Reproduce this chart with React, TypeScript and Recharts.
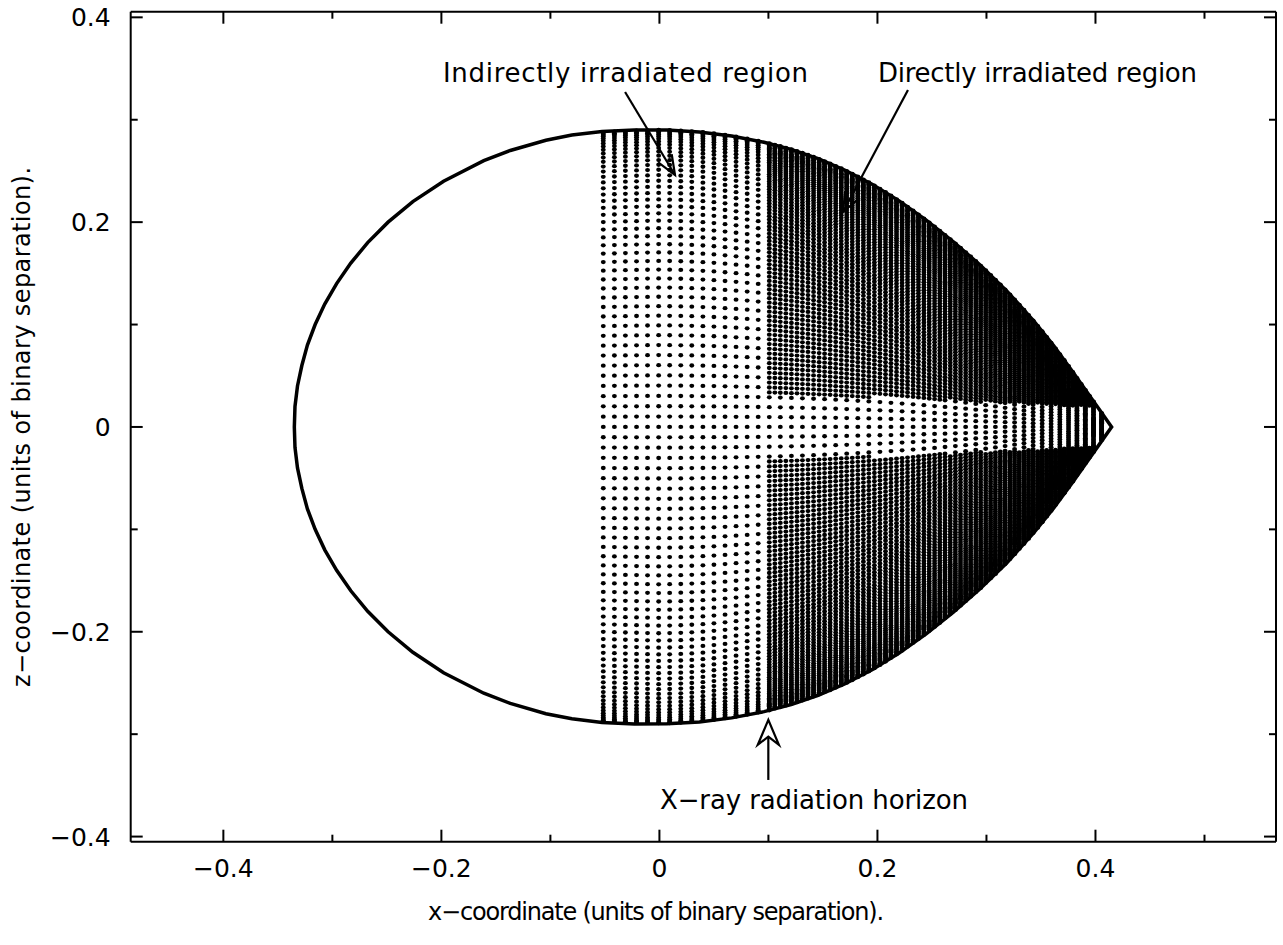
import { ComposedChart, Scatter, XAxis, YAxis, ReferenceLine, ReferenceDot } from "recharts";

// axis ticks (major ones carry a label)
const xTicks = [-0.4, -0.3, -0.2, -0.1, 0, 0.1, 0.2, 0.3, 0.4, 0.5];
const xTickLabels = ["−0.4", "", "−0.2", "", "0", "", "0.2", "", "0.4", ""];
const yTicks = [-0.4, -0.3, -0.2, -0.1, 0, 0.1, 0.2, 0.3, 0.4];
const yTickLabels = ["−0.4", "", "−0.2", "", "0", "", "0.2", "", "0.4"];

// upper half of the Roche lobe outline (mirrored for the lower half)
const outlineX = [
  -0.3349, -0.3343, -0.332, -0.328, -0.3229, -0.3158, -0.307, -0.2961, -0.2831, -0.2676, -0.2489, -0.2262,
  -0.198, -0.1611, -0.1368, -0.1041, -0.0803, -0.0526, -0.0229, 0.0069, 0.0366, 0.0663, 0.096, 0.1208,
  0.1456, 0.1704, 0.1951, 0.2199, 0.2447, 0.2694, 0.2942, 0.319, 0.3437, 0.3616, 0.3794, 0.3933, 0.4032,
  0.4148,
];
const outlineZ = [
  0, 0.02, 0.04, 0.06, 0.08, 0.1, 0.12, 0.14, 0.16, 0.18, 0.2, 0.22, 0.24, 0.26, 0.27, 0.28, 0.285, 0.2885,
  0.29, 0.2899, 0.2881, 0.2841, 0.278, 0.2711, 0.262, 0.2507, 0.237, 0.2208, 0.202, 0.1811, 0.158, 0.1324,
  0.103, 0.0794, 0.0535, 0.0325, 0.0175, 0,
];

// surface grid columns: x position and half height (top of column = outline)
const columnX = [
  -0.0515, -0.0464, -0.0413, -0.0362, -0.0312, -0.0261, -0.021, -0.0159, -0.0109, -0.0058, -0.0007, 0.0044,
  0.0094, 0.0145, 0.0196, 0.0247, 0.0297, 0.0348, 0.0399, 0.045, 0.05, 0.0551, 0.0602, 0.0653, 0.0703,
  0.0754, 0.0805, 0.0856, 0.0906, 0.0957, 0.1008, 0.1059, 0.1109, 0.116, 0.1211, 0.1262, 0.1312, 0.1363,
  0.1414, 0.1465, 0.1515, 0.1566, 0.1617, 0.1668, 0.1718, 0.1769, 0.182, 0.1871, 0.1921, 0.1972, 0.2023,
  0.2074, 0.2124, 0.2175, 0.2226, 0.2276, 0.2327, 0.2376, 0.2426, 0.2475, 0.2524, 0.2572, 0.262, 0.2668,
  0.2715, 0.2762, 0.2809, 0.2855, 0.2902, 0.2947, 0.2993, 0.3038, 0.3082, 0.3127, 0.3171, 0.3215, 0.3258,
  0.3301, 0.3344, 0.3386, 0.3428, 0.347, 0.3511, 0.3552, 0.3593, 0.3633, 0.3673, 0.3713, 0.3753, 0.3792,
  0.383, 0.3869, 0.3907, 0.3944, 0.3982, 0.4019, 0.4056,
];
const columnTop = [
  0.288, 0.2882, 0.2884, 0.2887, 0.2889, 0.2891, 0.2893, 0.2895, 0.2897, 0.2899, 0.29, 0.2899, 0.2898,
  0.2896, 0.2894, 0.2891, 0.2887, 0.2883, 0.2878, 0.2872, 0.2866, 0.2859, 0.2851, 0.2843, 0.2834, 0.2825,
  0.2815, 0.2804, 0.2793, 0.2781, 0.2769, 0.2755, 0.2741, 0.2726, 0.271, 0.2693, 0.2675, 0.2657, 0.2637,
  0.2616, 0.2594, 0.2572, 0.2548, 0.2524, 0.2498, 0.2472, 0.2444, 0.2416, 0.2387, 0.2356, 0.2324, 0.2292,
  0.2258, 0.2223, 0.2187, 0.215, 0.2112, 0.2074, 0.2035, 0.1996, 0.1955, 0.1914, 0.1873, 0.1832, 0.1791,
  0.1748, 0.1705, 0.1662, 0.1618, 0.1572, 0.1528, 0.1483, 0.1437, 0.139, 0.1341, 0.1293, 0.1243, 0.1193,
  0.1143, 0.1091, 0.1039, 0.0985, 0.0932, 0.0876, 0.0821, 0.0765, 0.0708, 0.0652, 0.0593, 0.0535, 0.0477,
  0.0418, 0.036, 0.0304, 0.0247, 0.019, 0.0135,
];
// relative height of the dot rows in a column (1 degree steps, top to equator)
const rowCos = [
  1, 0.9998, 0.9994, 0.9986, 0.9976, 0.9962, 0.9945, 0.9925, 0.9903, 0.9877, 0.9848, 0.9816, 0.9781, 0.9744,
  0.9703, 0.9659, 0.9613, 0.9563, 0.9511, 0.9455, 0.9397, 0.9336, 0.9272, 0.9205, 0.9135, 0.9063, 0.8988,
  0.891, 0.8829, 0.8746, 0.866, 0.8572, 0.848, 0.8387, 0.829, 0.8192, 0.809, 0.7986, 0.788, 0.7771, 0.766,
  0.7547, 0.7431, 0.7314, 0.7193, 0.7071, 0.6947, 0.682, 0.6691, 0.6561, 0.6428, 0.6293, 0.6157, 0.6018,
  0.5878, 0.5736, 0.5592, 0.5446, 0.5299, 0.515, 0.5, 0.4848, 0.4695, 0.454, 0.4384, 0.4226, 0.4067, 0.3907,
  0.3746, 0.3584, 0.342, 0.3256, 0.309, 0.2924, 0.2756, 0.2588, 0.2419, 0.225, 0.2079, 0.1908, 0.1736,
  0.1564, 0.1392, 0.1219, 0.1045, 0.0872, 0.0698, 0.0523, 0.0349, 0.0175, 0,
];
// X-ray horizon and the edge of the disc shadow
const horizonX = 0.1;
const shadowX = [0.1, 0.41];
const shadowZ = [0.033, 0.0195];

const xDomain = [-0.485, 0.5656];
const yDomain = [-0.405, 0.4055];

const outline = [
  ...outlineX.map((x, i) => ({ x, z: outlineZ[i] })),
  ...outlineX
    .slice(0, -1)
    .map((x, i) => ({ x, z: -outlineZ[i] }))
    .reverse(),
];

const dots: { x: number; z: number }[] = [];
columnX.forEach((cx, i) => {
  const rho = columnTop[i];
  const t = (cx - shadowX[0]) / (shadowX[1] - shadowX[0]);
  const zs = shadowZ[0] + t * (shadowZ[1] - shadowZ[0]);
  let lastZ = Infinity;
  for (let k = 0; k <= 180; k++) {
    const z = rho * (k <= 90 ? rowCos[k] : -rowCos[180 - k]);
    const lit = cx >= horizonX && Math.abs(z) >= zs; // directly irradiated: full grid
    const coarse = i % 2 === 0 && k % 2 === 0; // elsewhere every second point
    if (!lit && !coarse) continue;
    if (lastZ - z < 0.0008) continue; // hidden under the previous dot anyway
    dots.push({ x: cx, z });
    lastZ = z;
  }
});

const W = 1283;
const H = 945;
const M = { top: 11.7, right: 7, bottom: 0, left: 0 };
const PLOT_TOP = M.top;
const PLOT_RIGHT = W - M.right;
const FONT = '"DejaVu Sans", sans-serif';

function XTick(props: any) {
  const { x, y, payload } = props;
  const idx = xTicks.findIndex((t) => Math.abs(t - payload.value) < 1e-9);
  const label = xTickLabels[idx];
  const len = label ? 12 : 7;
  return (
    <g>
      <line x1={x} x2={x} y1={y} y2={y - len} stroke="#000" strokeWidth={2} />
      <line x1={x} x2={x} y1={PLOT_TOP} y2={PLOT_TOP + len} stroke="#000" strokeWidth={2} />
      {label && (
        <text x={x} y={y + 35} textAnchor="middle" fontSize={25} fontFamily={FONT} fill="#000">
          {label}
        </text>
      )}
    </g>
  );
}

function YTick(props: any) {
  const { x, y, payload } = props;
  const idx = yTicks.findIndex((t) => Math.abs(t - payload.value) < 1e-9);
  const label = yTickLabels[idx];
  const len = label ? 12 : 7;
  return (
    <g>
      <line x1={x} x2={x + len} y1={y} y2={y} stroke="#000" strokeWidth={2} />
      <line x1={PLOT_RIGHT} x2={PLOT_RIGHT - len} y1={y} y2={y} stroke="#000" strokeWidth={2} />
      {label && (
        <text x={x - 20} y={y + 9} textAnchor="end" fontSize={25} fontFamily={FONT} fill="#000">
          {label}
        </text>
      )}
    </g>
  );
}

function Arrow(props: any) {
  const { x1, y1, x2, y2, hollow } = props;
  const L = Math.hypot(x2 - x1, y2 - y1);
  const vx = (x1 - x2) / L;
  const vy = (y1 - y2) / L;
  const barb = (deg: number, len: number) => {
    const r = (deg * Math.PI) / 180;
    return [x2 + len * (vx * Math.cos(r) - vy * Math.sin(r)), y2 + len * (vx * Math.sin(r) + vy * Math.cos(r))];
  };
  if (hollow) {
    const [ax, ay] = barb(23, 27);
    const [bx, by] = barb(-23, 27);
    const nx = x2 + 16.7 * vx;
    const ny = y2 + 16.7 * vy;
    return (
      <g>
        <line x1={x1} y1={y1} x2={nx} y2={ny} stroke="#000" strokeWidth={2.2} />
        <path d={`M${x2},${y2}L${ax},${ay}L${nx},${ny}L${bx},${by}Z`} fill="#fff" stroke="#000" strokeWidth={2.2} />
      </g>
    );
  }
  const [ax, ay] = barb(22, 21);
  const [bx, by] = barb(-22, 21);
  return (
    <g>
      <line x1={x1} y1={y1} x2={x2} y2={y2} stroke="#000" strokeWidth={2.2} />
      <path d={`M${ax},${ay}L${x2},${y2}L${bx},${by}`} fill="none" stroke="#000" strokeWidth={2.2} />
    </g>
  );
}

function label(text: string, size: number, length: number, rotate = false) {
  return (p: any) => (
    <text
      x={p.cx}
      y={p.cy}
      textAnchor="middle"
      dominantBaseline="central"
      fontSize={size}
      fontFamily={FONT}
      fill="#000"
      textLength={length}
      lengthAdjust="spacing"
      transform={rotate ? `rotate(-90 ${p.cx} ${p.cy})` : undefined}
    >
      {text}
    </text>
  );
}

export default function App() {
  return (
    <div style={{ position: "absolute", left: 0, top: 0, background: "#fff" }}>
      <ComposedChart width={W} height={H} margin={M}>
        <XAxis
          type="number"
          dataKey="x"
          domain={xDomain}
          allowDataOverflow
          ticks={xTicks}
          interval={0}
          height={H - 841.7}
          tickSize={0}
          tickMargin={0}
          tickLine={false}
          tick={XTick}
          axisLine={{ stroke: "#000", strokeWidth: 2 }}
        />
        <YAxis
          type="number"
          dataKey="z"
          domain={yDomain}
          allowDataOverflow
          ticks={yTicks}
          interval={0}
          width={130.7}
          tickSize={0}
          tickMargin={0}
          tickLine={false}
          tick={YTick}
          axisLine={{ stroke: "#000", strokeWidth: 2 }}
        />
        <ReferenceLine y={yDomain[1]} stroke="#000" strokeWidth={2} />
        <ReferenceLine x={xDomain[1]} stroke="#000" strokeWidth={2} />

        <Scatter
          data={dots}
          isAnimationActive={false}
          shape={(p: any) => <ellipse cx={p.cx} cy={p.cy} rx={2.45} ry={2.15} fill="#000" />}
        />
        <Scatter
          data={outline}
          isAnimationActive={false}
          line={{ stroke: "#000", strokeWidth: 3.5 }}
          lineJointType="linear"
          shape={() => <g />}
        />

        <ReferenceLine
          segment={[{ x: -0.0315, y: 0.3271 }, { x: 0.0143, y: 0.246 }]}
          shape={(p: any) => <Arrow {...p} />}
        />
        <ReferenceLine
          segment={[{ x: 0.228, y: 0.329 }, { x: 0.1684, y: 0.2099 }]}
          shape={(p: any) => <Arrow {...p} />}
        />
        <ReferenceLine
          segment={[{ x: 0.0999, y: -0.3447 }, { x: 0.0999, y: -0.2861 }]}
          shape={(p: any) => <Arrow {...p} hollow />}
        />

        <ReferenceDot x={-0.0311} y={0.346} r={0} ifOverflow="visible" shape={label("Indirectly irradiated region", 26, 365)} />
        <ReferenceDot x={0.3468} y={0.346} r={0} ifOverflow="visible" shape={label("Directly irradiated region", 26, 319)} />
        <ReferenceDot x={0.1418} y={-0.3642} r={0} ifOverflow="visible" shape={label("X−ray radiation horizon", 26, 308)} />
        <ReferenceDot
          x={-0.0031}
          y={-0.4735}
          r={0}
          ifOverflow="visible"
          shape={label("x−coordinate (units of binary separation).", 24, 456)}
        />
        <ReferenceDot
          x={-0.5847}
          y={0}
          r={0}
          ifOverflow="visible"
          shape={label("z−coordinate (units of binary separation).", 24, 520, true)}
        />
      </ComposedChart>
    </div>
  );
}
